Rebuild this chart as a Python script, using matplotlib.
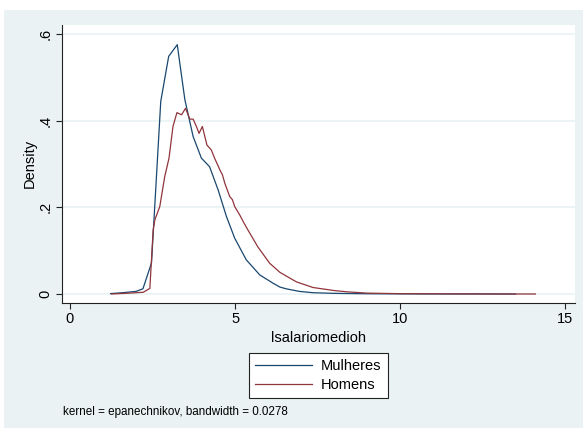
import matplotlib
matplotlib.use("Agg")
import matplotlib.pyplot as plt
from matplotlib.patches import Rectangle

plt.rcParams['font.family'] = ['Liberation Sans', 'DejaVu Sans']

mulheres_x = [1.23, 1.6, 2.0, 2.21, 2.47, 2.75, 2.99, 3.25, 3.48, 3.73, 3.98, 4.23, 4.49,
              4.74, 4.99, 5.34, 5.75, 6.15, 6.36, 6.55, 6.95, 7.36, 8.0, 9.0, 10.0, 11.0, 12.0, 13.5]
mulheres_y = [0.001, 0.003, 0.006, 0.012, 0.072, 0.445, 0.549, 0.576, 0.449, 0.364, 0.314, 0.294,
              0.240, 0.179, 0.129, 0.079, 0.044, 0.025, 0.016, 0.012, 0.006, 0.003, 0.0015,
              0.0006, 0.0003, 0.0001, 0.0001, 0.0]

homens_x = [1.26, 1.8, 2.22, 2.42, 2.52, 2.57, 2.72, 2.87, 3.0, 3.12, 3.24, 3.38, 3.5, 3.63,
            3.73, 3.83, 3.91, 4.01, 4.15, 4.28, 4.38, 4.54, 4.62, 4.69, 4.84, 4.92, 4.99, 5.14,
            5.25, 5.39, 5.69, 6.05, 6.36, 6.86, 7.36, 8.0, 8.4, 9.0, 10.0, 11.5, 13.0, 14.1]
homens_y = [0.0, 0.002, 0.004, 0.013, 0.148, 0.171, 0.202, 0.271, 0.314, 0.387, 0.419, 0.414,
            0.429, 0.404, 0.404, 0.387, 0.371, 0.387, 0.344, 0.333, 0.314, 0.287, 0.275, 0.256,
            0.225, 0.218, 0.202, 0.183, 0.167, 0.148, 0.109, 0.071, 0.050, 0.028, 0.015, 0.008,
            0.005, 0.002, 0.0008, 0.0003, 0.0001, 0.0]

x_ticks = [0, 5, 10, 15]
y_ticks = [0, 0.2, 0.4, 0.6]
y_tick_labels = ['0', '.2', '.4', '.6']
series_labels = ['Mulheres', 'Homens']
x_label = 'lsalariomedioh'
y_label = 'Density'
note = 'kernel = epanechnikov, bandwidth = 0.0278'

W, H = 583, 430
fig = plt.figure(figsize=(W / 100, H / 100), dpi=100, facecolor='white')
bg = '#EAF2F3'
fig.patches.append(Rectangle((4 / W, 2 / H), 1 - 4 / W, (428 - 10) / H,
                             transform=fig.transFigure, facecolor=bg, edgecolor='none', zorder=-10))

ax = fig.add_axes([62 / W, 1 - 302.7 / H, (575 - 62) / W, (302.7 - 24.5) / H])
ax.set_facecolor('white')

navy = '#1A476F'
maroon = '#90353B'
l1, = ax.plot(mulheres_x, mulheres_y, color=navy, lw=0.9, label=series_labels[0])
l2, = ax.plot(homens_x, homens_y, color=maroon, lw=0.9, label=series_labels[1])

ax.set_xlim(-0.242, 15.30)
ax.set_ylim(-0.0201, 0.6226)
ax.set_xticks(x_ticks)
ax.set_yticks(y_ticks)
ax.set_yticklabels(y_tick_labels, rotation=90, va='center')
ax.grid(axis='y', color=bg, lw=1.2)
ax.set_axisbelow(True)
for s in ['top', 'right']:
    ax.spines[s].set_visible(False)
for s in ['left', 'bottom']:
    ax.spines[s].set_color('#222222')
    ax.spines[s].set_linewidth(0.8)
ax.tick_params(axis='both', direction='out', length=4, width=0.8, color='#222222',
               labelsize=10.5, pad=3)
ax.set_xlabel(x_label, fontsize=10.5, labelpad=3)
ax.set_ylabel(y_label, fontsize=10.5, labelpad=1)

leg = fig.legend([l1, l2], series_labels, loc='center',
                 bbox_to_anchor=(318.5 / W, 1 - 375.5 / H), fontsize=10.5,
                 frameon=True, fancybox=False, edgecolor='#222222', framealpha=1,
                 handlelength=3.9, handletextpad=0.6, borderpad=0.45, labelspacing=0.3,
                 borderaxespad=0)
leg.get_frame().set_linewidth(0.8)

fig.text(63 / W, 1 - 412.5 / H, note, fontsize=8.4, va='center', ha='left')

fig.savefig('out.png', dpi=100, facecolor='white')
